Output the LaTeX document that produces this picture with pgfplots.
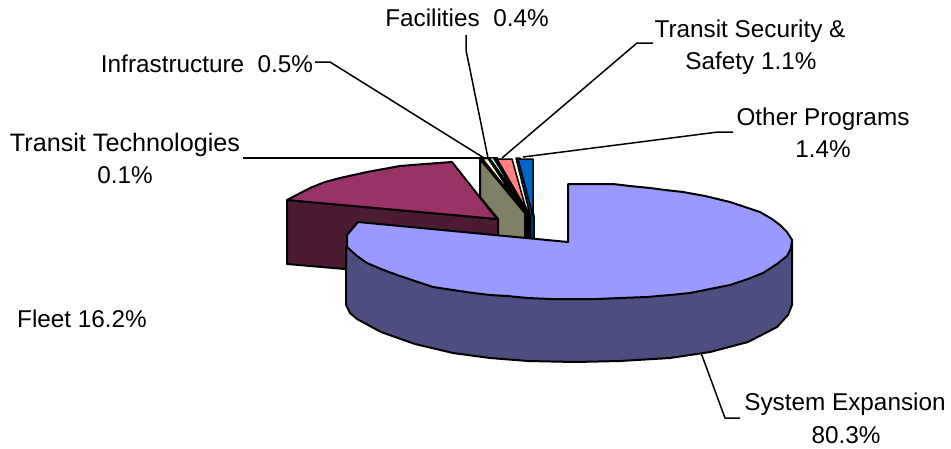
\documentclass[border=0pt]{standalone}
\usepackage{pgfplots}
\pgfplotsset{compat=1.18}
\usepackage{fontspec}
\setmainfont{Liberation Sans}
\definecolor{peri}{HTML}{9999FF}
\definecolor{periD}{HTML}{4D4D80}
\definecolor{fleet}{HTML}{993366}
\definecolor{fleetD}{HTML}{4D1A33}
\definecolor{olive}{HTML}{808066}
\definecolor{cream}{HTML}{FFFFCC}
\definecolor{ltblue}{HTML}{CCFFFF}
\definecolor{pinkk}{HTML}{FF8080}
\definecolor{bluee}{HTML}{0066CC}
\definecolor{blueD}{HTML}{003366}
\tikzset{tt/.style={font=\fontsize{24.3}{24}\selectfont,anchor=base,inner sep=0pt,text=black}}
\begin{document}
\begin{tikzpicture}
\begin{axis}[
  width=951pt,height=448pt,scale only axis,
  xmin=0,xmax=951,ymin=0,ymax=448,y dir=reverse,
  hide axis,
  every axis plot/.append style={no markers,line width=2pt,line join=round,draw=black},
]
\addplot[draw=none,fill=white,forget plot] coordinates {(0,0)(951,0)(951,448)(0,448)} --cycle;
% leader lines
\addplot[line width=1.5pt] coordinates {(243,158)(490,158)};
\addplot[line width=1.5pt] coordinates {(315,62)(330,62)(484,158)};
\addplot[line width=1.5pt] coordinates {(466,35)(466,50)(488,158)};
\addplot[line width=1.5pt] coordinates {(653,43)(637,43)(502,158)};
\addplot[line width=1.5pt] coordinates {(733,132)(718,132)(523,157)};
\addplot[line width=1.5pt] coordinates {(700,350)(725,418)(740,418)};
% fleet
\addplot[fill=fleetD] coordinates {(287,200)(498,219)(498,240)(345,269)(287,264)} --cycle;
\addplot[fill=fleet] coordinates {(287,200)(310,188)(325,182)(340,178)(367,172)(400,166)(425,164)(452,162)(497,219)} --cycle;
% olive
\addplot[fill=olive] coordinates {(480,159)(480,197)(498,219)(498,240)(525,240)(525,213)} --cycle;
% thin slices
\addplot[fill=black] coordinates {(481,158)(497,158)(530,215)(530,240)(525,240)(525,213)} --cycle;
\addplot[fill=cream,line width=0.8pt] coordinates {(483,159)(488,159)(512,195)} --cycle;
\addplot[fill=ltblue,line width=0.7pt] coordinates {(490,158)(493,158)(514,192)} --cycle;
\addplot[fill=pinkk,line width=1.5pt] coordinates {(497,159)(512,159)(526,209)} --cycle;
\addplot[fill=blueD,line width=1.5pt] coordinates {(516,158)(520,158)(534,216)(534,240)(530,240)(530,215)} --cycle;
\addplot[fill=bluee,line width=1.5pt] coordinates {(518,159)(533,159)(533,216)} --cycle;
% main slice side
\addplot[fill=periD] coordinates {(346,247)(346,305)(350,313)(357,319)(381,332)(415,344)(453,353)(490,358)(528,361)(575,362)(620,361)(670,358)(710,352)(748,342)(777,327)(788,315)(792,305)(792,240)(700,270)(500,270)} --cycle;
% main slice top
\addplot[fill=peri] coordinates {(568,242)(568,184)(590,184)(613,184)(630,186)(650,188)(665,190)(683,192)(705,196)(730,202)(745,207)(760,212)(772,219)(780,225)(787,232)(792,240)(791,248)(787,256)(777,264)(763,273)(748,279)(730,285)(710,289)(690,293)(670,295)(647,297)(620,298)(597,299)(575,299)(550,299)(528,298)(507,296)(490,295)(473,293)(453,290)(433,287)(415,281)(397,275)(381,269)(367,263)(357,256)(347,247)(347,235)(358,222)} --cycle;
% labels
\node[tt] at (axis cs:467,26) {Facilities\ \ 0.4\%};
\node[tt] at (axis cs:207,72) {Infrastructure\ \ 0.5\%};
\node[tt,font=\fontsize{25.2}{25}\selectfont] at (axis cs:125,151) {Transit Technologies};
\node[tt] at (axis cs:125,183) {0.1\%};
\node[tt] at (axis cs:750,37) {Transit Security \&};
\node[tt] at (axis cs:751,69) {Safety 1.1\%};
\node[tt] at (axis cs:823,125) {Other Programs};
\node[tt] at (axis cs:823,157) {1.4\%};
\node[tt] at (axis cs:845,410) {System Expansion};
\node[tt] at (axis cs:846,443) {80.3\%};
\node[tt] at (axis cs:82,327) {Fleet 16.2\%};
\end{axis}
\end{tikzpicture}
\end{document}
